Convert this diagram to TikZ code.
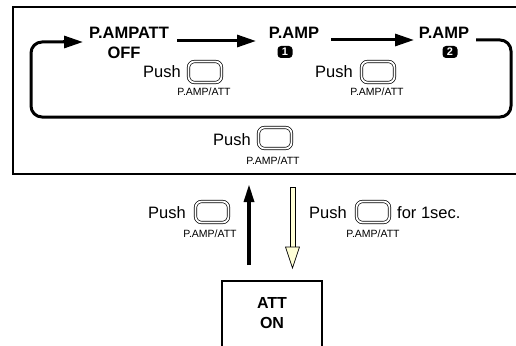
\documentclass[tikz,border=0pt]{standalone}
\usepackage{fontspec}
\setmainfont{Liberation Sans}
\usetikzlibrary{arrows.meta,calc}
\definecolor{cream}{RGB}{255,255,215}
\tikzset{
  stateL/.style={font=\fontsize{16.5}{17}\selectfont\bfseries, inner sep=0pt},
  pushL/.style={font=\fontsize{16.5}{18}\selectfont, inner sep=0pt},
  keyL/.style={font=\fontsize{10.5}{11}\selectfont, inner sep=0pt},
  btn/.style={draw, double, double distance=1.8pt, line width=0.7pt, rounded corners=6pt,
    minimum width=33pt, minimum height=21pt, inner sep=0pt},
  badge/.style={fill=black, text=white, rounded corners=3.5pt,
    font=\fontsize{11}{11}\selectfont\bfseries,
    minimum width=15pt, minimum height=12pt, inner sep=0pt},
  cyc/.style={line width=3pt, rounded corners=11pt},
  cycarrow/.style={line width=3pt, -{Triangle[length=19pt,width=12pt]}},
  frame/.style={line width=1.2pt}
}
\begin{document}
\begin{tikzpicture}[x=1pt,y=-1pt]
\useasboundingbox (0,0) rectangle (516,345);
\clip (0,0) rectangle (516,345);

% upper frame (open to the right)
\draw[frame] (530,7) -- (13,7) -- (13,174) -- (530,174);

% state labels
\node[stateL] (off) at (129,33) {P.AMPATT};
\node[stateL] (offb) at (124,53) {OFF};
\node[stateL] (amp1) at (294,33) {P.AMP};
\node[badge] (n1) at (285,52) {1};
\node[stateL] (amp2) at (444,33) {P.AMP};
\node[badge] (n2) at (450,52) {2};

% cycle arrows
\coordinate (a1s) at (177,41);
\coordinate (a1e) at (256,41);
\coordinate (a2s) at (331,40);
\coordinate (a2e) at (414,40);
\coordinate (r0) at (476,40);
\coordinate (r1) at (511,40);
\coordinate (r2) at (511,117);
\coordinate (l2) at (31,117);
\coordinate (l1) at (31,42);
\coordinate (le) at (83,42);
\draw[cycarrow] (a1s) -- (a1e);
\draw[cycarrow] (a2s) -- (a2e);
\draw[cyc] (r0) -- (r1) -- (r2) -- (l2) -- (l1) -- ([xshift=-18pt]le);
\draw[cycarrow] ([xshift=-20pt]le) -- (le);

% push keys inside the loop
\node[pushL] (p1) at (162,72) {Push};
\node[btn] (b1) at (205,72) {};
\node[keyL] (k1) at (204,92) {P.AMP/ATT};
\node[pushL] (p2) at (334,72) {Push};
\node[btn] (b2) at (378,72) {};
\node[keyL] (k2) at (377,92) {P.AMP/ATT};

% push key under the loop
\node[pushL] (p3) at (232,140) {Push};
\node[btn] (b3) at (275,138) {};
\node[keyL] (k3) at (273,161) {P.AMP/ATT};

% attenuator state
\node[stateL, align=center, font=\fontsize{16}{20}\selectfont\bfseries] (att) at (272,313) {ATT\\ON};
\draw[frame] (222,350) -- (222,281) -- (322,281) -- (322,350);

% up arrow (ATT ON -> back to the loop)
\coordinate (ub) at (249,265);
\coordinate (ut) at (249,185);
\draw[line width=4pt] (ub) -- ($(ut)+(0,14)$);
\fill (ut) -- ($(ut)+(-5.5,17)$) -- ($(ut)+(5.5,17)$) -- cycle;

% hollow down arrow (held key -> ATT ON)
\coordinate (dt) at (292.5,187);
\coordinate (dh) at (292.5,247);
\coordinate (dp) at (292.5,268);
\draw[fill=cream, line width=0.7pt] ([xshift=-2.6pt]dt) rectangle ([xshift=2.6pt]dh);
\draw[fill=cream, line width=0.7pt] ([xshift=-7pt]dh) -- ([xshift=7pt]dh) -- (dp) -- cycle;

% key labels beside the arrows
\node[pushL] (p4) at (167,213) {Push};
\node[btn] (b4) at (212,212) {};
\node[keyL] (k4) at (210,234) {P.AMP/ATT};
\node[pushL] (p5) at (328,213) {Push};
\node[btn] (b5) at (373,212) {};
\node[keyL] (k5) at (373,234) {P.AMP/ATT};
\node[pushL, anchor=west] (sec) at (397,213) {for 1sec.};
\end{tikzpicture}
\end{document}
